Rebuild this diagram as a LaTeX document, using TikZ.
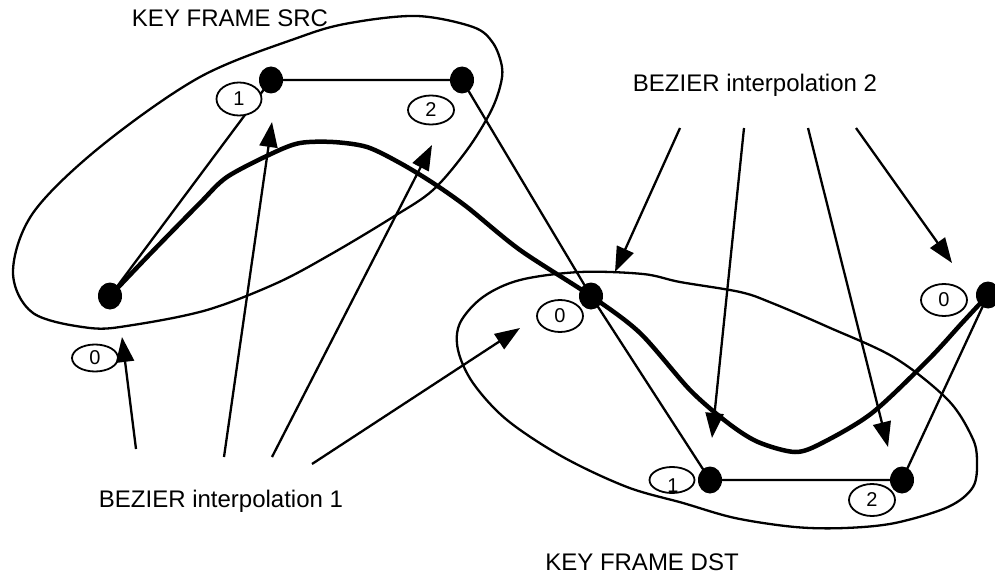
\documentclass[tikz,border=0pt]{standalone}
\usepackage{fontspec}
\setmainfont{Liberation Sans}
\usetikzlibrary{shapes.geometric,arrows.meta}
\begin{document}
\begin{tikzpicture}[x=1pt,y=-1pt,
  dot/.style={ellipse,fill=black,minimum width=24pt,minimum height=27pt,inner sep=0pt},
  tag/.style={ellipse,draw,fill=white,line width=1.8pt,minimum width=46pt,minimum height=30pt,inner sep=0pt,font=\fontsize{20}{20}\selectfont},
  digit/.style={inner sep=0pt,font=\fontsize{20}{20}\selectfont},
  title/.style={anchor=base,inner sep=0pt,font=\fontsize{24}{28}\selectfont},
  blob/.style={draw,line width=2.3pt,line join=round},
  ctrl/.style={draw,line width=2.3pt},
  curve/.style={draw,line width=4.5pt,line cap=round,line join=round},
  pointer/.style={draw,line width=2.3pt,-{Triangle[length=25pt,width=18pt]}},
]
\useasboundingbox (0,0) rectangle (995,575);
\fill[white] (0,0) rectangle (995,575);

% control points
\coordinate (P0) at (110,296);
\coordinate (P1) at (271,80);
\coordinate (P2) at (462,80);
\coordinate (Q0) at (591,296);
\coordinate (Q1) at (710,480);
\coordinate (Q2) at (902,480);
\coordinate (Q3) at (988,295);

% key frame outlines
\draw[blob] plot[smooth cycle,tension=0.55] coordinates {
  (417,16) (473,27) (493,43) (502,67) (500,87) (490,113) (467,150) (433,190)
  (393,217) (333,253) (277,283) (207,310) (133,325) (90,328) (33,313) (13,272)
  (33,213) (100,147) (200,77) (300,37) (350,23)};
\draw[blob] plot[smooth cycle,tension=0.55] coordinates {
  (580,272) (643,274) (680,282) (740,292) (772,303) (828,327) (895,358) (948,400)
  (972,437) (977,460) (973,487) (948,507) (895,523) (845,528) (795,527) (735,518)
  (683,503) (627,487) (563,457) (507,420) (473,383) (458,350) (460,323) (483,297)
  (520,280)};

% control polygons
\draw[ctrl] (P0) -- (P1) -- (P2) -- (Q0) -- (Q1) -- (Q2) -- (Q3);

% interpolated curve
\draw[curve] plot[smooth,tension=0.5] coordinates {
  (P0) (150,254) (200,203) (227,177) (273,153) (300,143) (333,142) (367,147)
  (400,163) (433,183) (467,207) (520,250) (Q0) (640,333) (690,390) (728,423)
  (758,442) (795,452) (822,443) (872,413) (928,360) (962,323) (Q3)};

% index tags
\node[tag,minimum height=33pt,minimum width=45pt] (t1s) at (239,99) {1};
\node[tag,minimum height=29pt] (t2s) at (431,110) {2};
\node[tag,minimum height=27pt] (t0s) at (95,358) {0};
\node[tag,minimum height=32pt] (t0d) at (560,316) {0};
\node[tag,minimum height=26pt,minimum width=45pt] (t1d) at (672,480) {};
\node[digit] (t1dtext) at (673,485.5) {1};
\node[tag,minimum height=32pt] (t2d) at (872,500) {2};
\node[tag,minimum height=32pt] (t0r) at (944,300) {0};

% key points
\node[dot] (d0) at (P0) {};
\node[dot] (d1) at (P1) {};
\node[dot] (d2) at (P2) {};
\node[dot] (e0) at (Q0) {};
\node[dot] (e1) at (Q1) {};
\node[dot] (e2) at (Q2) {};
\node[dot] (e3) at (Q3) {};

% titles
\node[title] (src) at (230,27) {KEY FRAME SRC};
\node[title] (dst) at (642,570) {KEY FRAME DST};
\node[title] (bz2) at (755,92) {BEZIER interpolation 2};
\node[title] (bz1) at (221,507) {BEZIER interpolation 1};

% pointers of interpolation 2
\coordinate (u1) at (680,128); \coordinate (v1) at (615,272);
\coordinate (u2) at (744,128); \coordinate (v2) at (712,438);
\coordinate (u3) at (808,128); \coordinate (v3) at (888,447);
\coordinate (u4) at (856,128); \coordinate (v4) at (952,263);
\draw[pointer] (u1) -- (v1);
\draw[pointer] (u2) -- (v2);
\draw[pointer] (u3) -- (v3);
\draw[pointer] (u4) -- (v4);

% pointers of interpolation 1
\coordinate (s1) at (136,449); \coordinate (w1) at (122,337);
\coordinate (s2) at (224,457); \coordinate (w2) at (272,122);
\coordinate (s3) at (272,457); \coordinate (w3) at (432,145);
\coordinate (s4) at (312,464); \coordinate (w4) at (520,328);
\draw[pointer] (s1) -- (w1);
\draw[pointer] (s2) -- (w2);
\draw[pointer] (s3) -- (w3);
\draw[pointer] (s4) -- (w4);
\end{tikzpicture}
\end{document}
